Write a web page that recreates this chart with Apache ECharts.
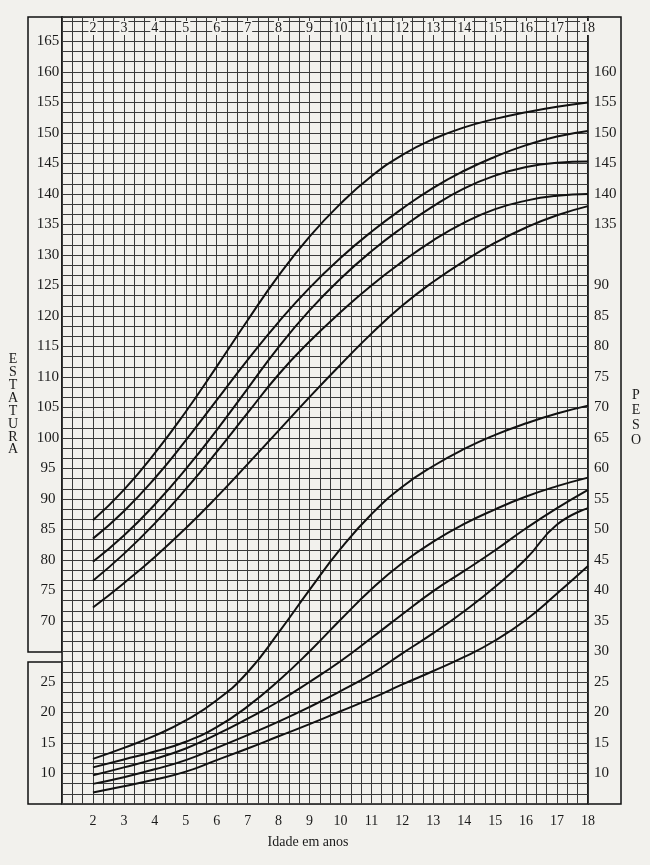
<!DOCTYPE html>
<html><head><meta charset="utf-8">
<script src="https://cdn.jsdelivr.net/npm/echarts@6/dist/echarts.min.js"></script>
<style>html,body{margin:0;padding:0;background:#f2f1ed;}#c{width:650px;height:865px;}</style>
</head><body><div id="c"></div>
<script>
// ---- data ----
const ages = [2,3,4,5,6,7,8,9,10,11,12,13,14,15,16,17,18];
const staturaA = [86.5,91.5,97.5,104.3,111.7,119.3,126.6,133.0,138.4,142.9,146.4,149.0,150.9,152.3,153.4,154.3,155.0];
const staturaB = [83.5,88.0,93.4,99.6,106.2,112.8,119.0,124.6,129.5,133.8,137.6,141.0,143.8,146.1,148.0,149.4,150.3];
const staturaC = [79.7,84.0,89.1,94.9,101.3,108.1,114.9,120.9,126.1,130.6,134.5,138.0,140.9,143.0,144.4,145.1,145.3];
const staturaD = [76.6,81.0,86.0,91.6,97.7,104.1,110.4,115.8,120.6,125.0,128.9,132.4,135.3,137.5,138.9,139.7,140.0];
const staturaE = [72.2,76.2,80.5,85.2,90.3,95.7,101.2,106.7,112.0,117.1,121.7,125.6,129.0,132.0,134.5,136.5,138.0];
const pesoA = [12.4,14.2,16.2,18.7,22.0,26.6,33.1,40.1,46.8,52.5,57.0,60.4,63.2,65.5,67.4,69.0,70.3];
const pesoB = [11,12.3,13.6,15.2,17.6,21,25.2,30,35.2,40.2,44.5,48,50.9,53.3,55.4,57.1,58.5];
const pesoC = [9.7,11,12.4,14.1,16.4,19,21.8,25,28.4,32.2,36.1,39.9,43.2,46.6,50.2,53.5,56.5];
const pesoD = [8.3,9.4,10.7,12.2,14.2,16.3,18.5,20.9,23.5,26.3,29.7,33,36.6,40.6,45.2,50.8,53.5];
const pesoE = [6.9,7.9,9,10.3,12.2,14.1,16.1,18.1,20.2,22.3,24.6,26.8,29.1,31.8,35.2,39.5,44];

// tick labels
const ageTicks = [2,3,4,5,6,7,8,9,10,11,12,13,14,15,16,17,18];
const staturaLeftTicks = [70,75,80,85,90,95,100,105,110,115,120,125,130,135,140,145,150,155,160,165];
const pesoLeftTicks = [10,15,20,25];
const staturaRightTicks = [135,140,145,150,155,160];
const pesoRightTicks = [10,15,20,25,30,35,40,45,50,55,60,65,70,75,80,85,90];

// ---- layout / style ----
const FONT = 'Liberation Serif';
const INK = '#1a1a1a';
const BG = '#f2f1ed';
const GRIDC = '#3a3a3a';
const GL = 62, GR = 62, GT = 17, GB = 61; // plot area: x 62..588, y 17..804

const chart = echarts.init(document.getElementById('c'), null, {renderer:'canvas'});

function pairs(xs, ys){ return xs.map((x,i)=>[x, ys[i]]); }
function lineSeries(name, vals, yIdx){
  return {name, type:'line', xAxisIndex:0, yAxisIndex:yIdx, data:pairs(ages, vals),
    smooth:true, symbol:'none', lineStyle:{color:'#111', width:2}, z:5, silent:true};
}
function fmt(list){ return v => list.includes(Math.round(v*1000)/1000) ? String(v) : ''; }
const lab = (extra) => Object.assign({fontFamily:FONT, fontSize:15, color:INK}, extra);

const option = {
  backgroundColor: BG,
  animation:false,
  title:[
    {text:'E\nS\nT\nA\nT\nU\nR\nA', left:8, top:348, textAlign:'center',
     textStyle:{fontFamily:FONT, fontSize:14, fontWeight:'normal', lineHeight:12.9, color:INK}},
    {text:'P\nE\nS\nO', left:631, top:383, textAlign:'center',
     textStyle:{fontFamily:FONT, fontSize:14, fontWeight:'normal', lineHeight:15, color:INK}}
  ],
  grid:{left:GL, right:GR, top:GT, bottom:GB, show:true, borderColor:'#111', borderWidth:1.5,
        backgroundColor:'transparent', containLabel:false, outerBoundsMode:'none'},
  xAxis:[
    {type:'value', min:1, max:18, interval:1, position:'bottom',
     axisLine:{show:false}, axisTick:{show:false}, splitLine:{show:false},
     axisLabel:{formatter:fmt(ageTicks), margin:10, fontFamily:FONT, fontSize:14, color:INK},
     name:'Idade em anos', nameLocation:'middle', nameGap:31,
     nameTextStyle:{fontFamily:FONT, fontSize:14, color:INK, padding:[0,34,0,0]}},
    {type:'value', min:1, max:18, interval:1, position:'top', z:10,
     axisLine:{show:false}, axisTick:{show:false}, splitLine:{show:false},
     axisLabel:{inside:true, formatter:fmt(ageTicks), margin:4, fontFamily:FONT, fontSize:14, color:INK,
                backgroundColor:BG, padding:[0,1]}},
    {type:'value', min:0, max:51, interval:1, position:'bottom',
     axisLine:{show:false}, axisTick:{show:false}, axisLabel:{show:false},
     splitLine:{show:true, lineStyle:{color:GRIDC, width:1}}}
  ],
  yAxis:[
    {type:'value', min:40, max:169, interval:5, position:'left',
     axisLine:{show:false}, axisTick:{show:false}, splitLine:{show:false},
     axisLabel:lab({formatter:fmt(staturaLeftTicks), align:'center', margin:14})},
    {type:'value', min:5, max:134, interval:5, position:'left',
     axisLine:{show:false}, axisTick:{show:false}, splitLine:{show:false},
     axisLabel:lab({formatter:fmt(pesoLeftTicks), align:'center', margin:14})},
    {type:'value', min:5, max:134, interval:5, position:'right',
     axisLine:{show:false}, axisTick:{show:false}, splitLine:{show:false},
     axisLabel:lab({formatter:fmt(pesoRightTicks), margin:6})},
    {type:'value', min:40, max:169, interval:5, position:'right',
     axisLine:{show:false}, axisTick:{show:false}, splitLine:{show:false},
     axisLabel:lab({formatter:fmt(staturaRightTicks), margin:6})},
    {type:'value', min:0, max:77.4, interval:1, position:'left',
     axisLine:{show:false}, axisTick:{show:false}, axisLabel:{show:false},
     splitLine:{show:true, lineStyle:{color:GRIDC, width:1}}}
  ],
  graphic:[
    {type:'rect', shape:{x:28, y:GT, width:GL-28, height:652-GT}, style:{fill:null, stroke:'#111', lineWidth:1.5}, silent:true},
    {type:'rect', shape:{x:28, y:662, width:GL-28, height:865-GB-662}, style:{fill:null, stroke:'#111', lineWidth:1.5}, silent:true},
    {type:'rect', shape:{x:650-GR, y:GT, width:621-(650-GR), height:865-GB-GT}, style:{fill:null, stroke:'#111', lineWidth:1.5}, silent:true}
  ],
  series:[
    lineSeries('Estatura A', staturaA, 0),
    lineSeries('Estatura B', staturaB, 0),
    lineSeries('Estatura C', staturaC, 0),
    lineSeries('Estatura D', staturaD, 0),
    lineSeries('Estatura E', staturaE, 0),
    lineSeries('Peso A', pesoA, 1),
    lineSeries('Peso B', pesoB, 1),
    lineSeries('Peso C', pesoC, 1),
    lineSeries('Peso D', pesoD, 1),
    lineSeries('Peso E', pesoE, 1)
  ]
};
chart.setOption(option);
</script></body></html>
